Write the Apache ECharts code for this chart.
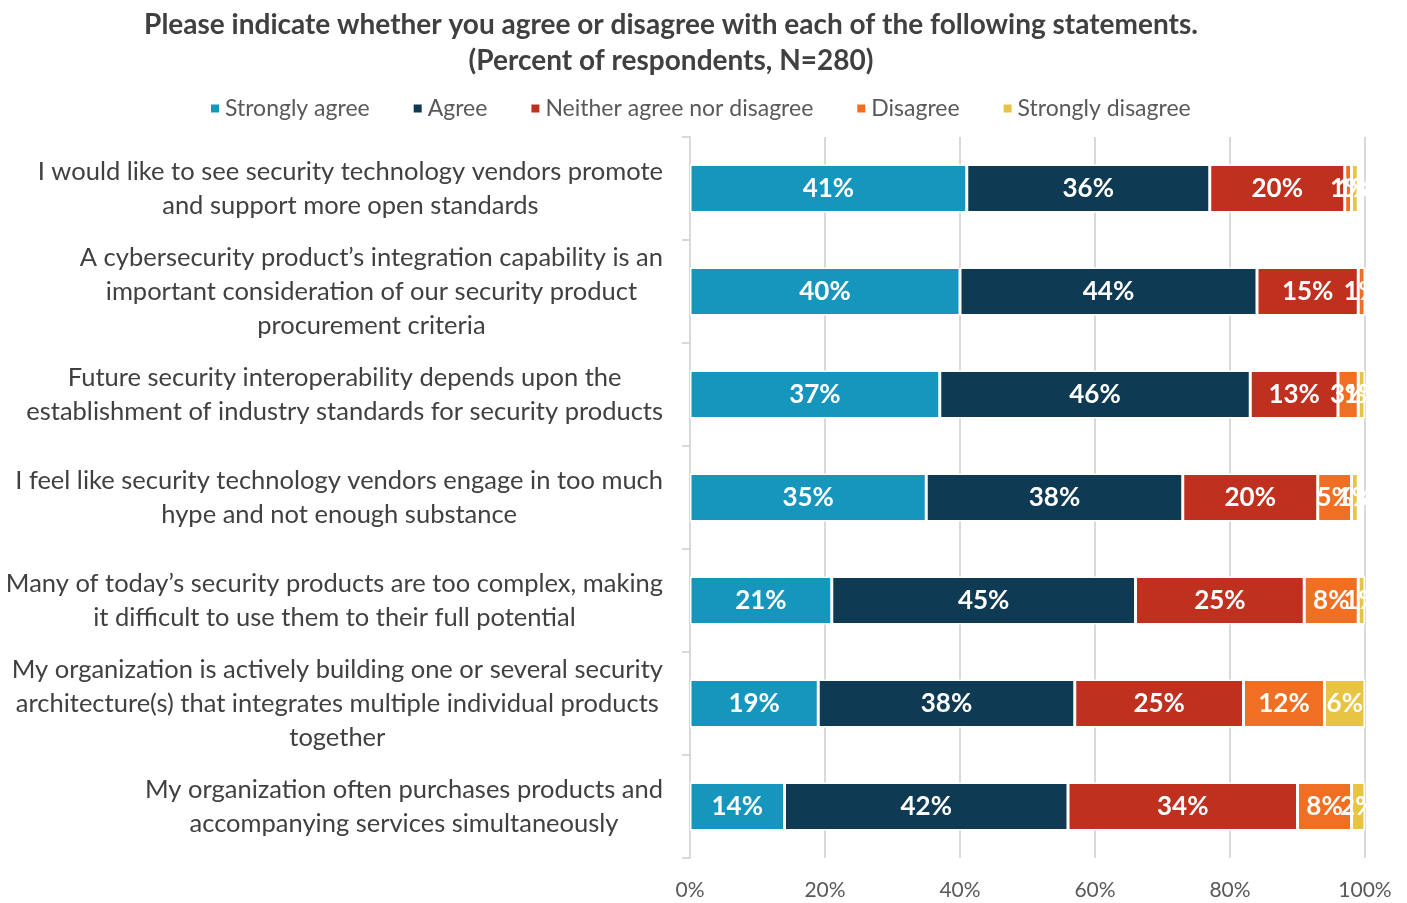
<!DOCTYPE html>
<html>
<head>
<meta charset="utf-8">
<script src="https://cdn.jsdelivr.net/npm/echarts@6/dist/echarts.min.js"></script>
<style>
  html, body { margin: 0; padding: 0; background: #fff; }
  #chart { width: 1407px; height: 903px; }
</style>
</head>
<body>
<div id="chart"></div>
<script>
// Survey statements (top to bottom), wrapped as displayed
const statements = [
  'I would like to see security technology vendors promote\nand support more open standards',
  'A cybersecurity product\u2019s integration capability is an\nimportant consideration of our security product\nprocurement criteria',
  'Future security interoperability depends upon the\nestablishment of industry standards for security products',
  'I feel like security technology vendors engage in too much\nhype and not enough substance',
  'Many of today\u2019s security products are too complex, making\nit difficult to use them to their full potential',
  'My organization is actively building one or several security\narchitecture(s) that integrates multiple individual products\ntogether',
  'My organization often purchases products and\naccompanying services simultaneously'
];

const seriesNames = ['Strongly agree', 'Agree', 'Neither agree nor disagree', 'Disagree', 'Strongly disagree'];
const seriesColors = ['#1796bd', '#0e3b53', '#c0301f', '#f06f22', '#e8c443'];

// Percent of respondents per statement, one array per response
const stronglyAgree    = [41, 40, 37, 35, 21, 19, 14];
const agree            = [36, 44, 46, 38, 45, 38, 42];
const neither          = [20, 15, 13, 20, 25, 25, 34];
const disagree         = [1, 1, 3, 5, 8, 12, 8];
const stronglyDisagree = [1, 0, 1, 1, 1, 6, 2];

const xTicks = [0, 20, 40, 60, 80, 100];

const FONT = 'Lato';
const seriesValues = [stronglyAgree, agree, neither, disagree, stronglyDisagree];

const chart = echarts.init(document.getElementById('chart'));

const series = seriesNames.map((name, i) => ({
  name: name,
  type: 'bar',
  stack: 'total',
  barWidth: 48,
  data: seriesValues[i],
  itemStyle: { color: seriesColors[i], borderColor: '#ffffff', borderWidth: 1.5 },
  label: {
    show: true,
    position: 'inside',
    color: '#ffffff',
    fontFamily: FONT,
    fontWeight: 'bold',
    fontSize: 26,
    formatter: p => (p.value > 0 ? p.value + '%' : '')
  },
  emphasis: { disabled: true }
}));

chart.setOption({
  animation: false,
  textStyle: { fontFamily: FONT },
  title: {
    text: 'Please indicate whether you agree or disagree with each of the following statements.\n(Percent of respondents, N=280)',
    left: 666,
    top: 2,
    textAlign: 'center',
    textStyle: {
      fontFamily: FONT,
      fontSize: 28,
      fontWeight: 'bold',
      color: '#404040',
      lineHeight: 36,
      align: 'center'
    }
  },
  legend: {
    top: 92,
    left: 204,
    itemGap: 42,
    icon: 'rect',
    itemWidth: 10,
    itemHeight: 10,
    textStyle: { fontFamily: FONT, fontSize: 23, color: '#595959' },
    data: seriesNames
  },
  grid: { left: 690, right: 42, top: 137, bottom: 45, containLabel: false },
  xAxis: {
    type: 'value',
    min: xTicks[0],
    max: xTicks[xTicks.length - 1],
    interval: 20,
    axisLine: { show: false },
    axisTick: { show: false },
    splitLine: { show: true, lineStyle: { color: '#d9d9d9', width: 2 } },
    axisLabel: {
      margin: 22,
      fontFamily: FONT,
      fontSize: 21,
      color: '#595959',
      formatter: v => v + '%'
    }
  },
  yAxis: {
    type: 'category',
    inverse: true,
    data: statements,
    axisLine: { show: true, lineStyle: { color: '#d9d9d9', width: 2 } },
    axisTick: { show: true, length: 8, lineStyle: { color: '#d9d9d9', width: 2 } },
    axisLabel: {
      margin: 27,
      align: 'right',
      interval: 0,
      formatter: v => v.split('\n').map(l => '{c|' + l + '}').join('\n'),
      rich: {
        c: {
          align: 'center',
          fontFamily: FONT,
          fontSize: 25.5,
          lineHeight: 34,
          color: '#404040'
        }
      }
    }
  },
  series: series
});
</script>
</body>
</html>
